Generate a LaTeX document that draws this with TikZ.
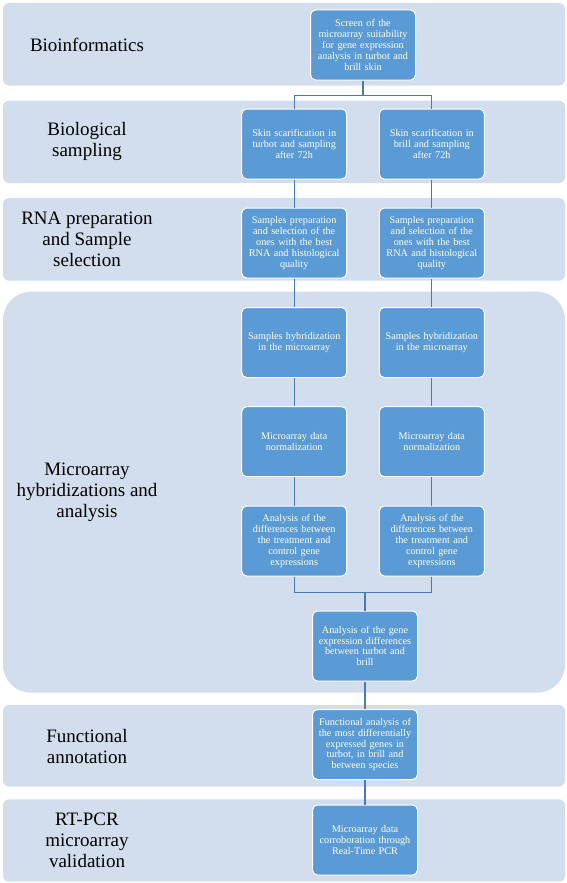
\documentclass[tikz,border=0pt]{standalone}
\usepackage{fontspec}
\setmainfont{Liberation Serif}
\usepackage{tikz}
\usetikzlibrary{positioning}
\definecolor{bandblue}{RGB}{210,222,237}
\definecolor{boxblue}{RGB}{91,155,213}
\definecolor{lineblue}{RGB}{72,122,182}

\begin{document}
\begin{tikzpicture}[x=1pt,y=-1pt]
\tikzstyle{band}=[fill=bandblue, rounded corners=6pt]
\tikzstyle{stage}=[align=center, text=black, font=\fontsize{19}{21}\selectfont]
\tikzstyle{box}=[rectangle, rounded corners=5pt, fill=boxblue, draw=white, line width=1pt, minimum width=105pt, minimum height=70pt, text width=97pt, inner sep=0pt, align=center, text=white, font=\fontsize{10.2}{10.8}\selectfont]
\tikzstyle{connect}=[draw=lineblue, line width=1.3pt]
\useasboundingbox (0,0) rectangle (567,883);
	% stage bands
	\fill[band] (3,3) rectangle (565,85.5);
	\fill[band] (3,100.7) rectangle (565,183);
	\fill[band] (3,198) rectangle (565,280.7);
	\fill[band, rounded corners=28pt] (3,291.7) rectangle (565,692.7);
	\fill[band] (3,705) rectangle (565,786.7);
	\fill[band] (3,799.3) rectangle (565,881.7);

	\node[stage] (s_1) at (87,44.5) {Bioinformatics};
	\node[stage] (s_2) at (87,141.8) {Biological\\sampling};
	\node[stage] (s_3) at (87,239.5) {RNA preparation\\and Sample\\selection};
	\node[stage] (s_4) at (87,492) {Microarray\\hybridizations and\\analysis};
	\node[stage] (s_5) at (87,746) {Functional\\annotation};
	\node[stage] (s_6) at (87,840.5) {RT-PCR\\microarray\\validation};

	\node[box] (screen) at (363,45) {Screen of the\\microarray suitability\\for gene expression\\analysis in turbot and\\brill skin};
	\node[box] (skin_t) at (294.2,144) {Skin scarification in\\turbot and sampling\\after 72h};
	\node[box] (skin_b) at (431.8,144) {Skin scarification in\\brill and sampling\\after 72h};
	\node[box] (rna_t) at (294.2,243) {Samples preparation\\and selection of the\\ones with the best\\RNA and histological\\quality};
	\node[box] (rna_b) at (431.8,243) {Samples preparation\\and selection of the\\ones with the best\\RNA and histological\\quality};
	\node[box] (hyb_t) at (294.2,342.5) {Samples hybridization\\in the microarray};
	\node[box] (hyb_b) at (431.8,342.5) {Samples hybridization\\in the microarray};
	\node[box] (norm_t) at (294.2,441.7) {Microarray data\\normalization};
	\node[box] (norm_b) at (431.8,441.7) {Microarray data\\normalization};
	\node[box] (diff_t) at (294.2,541) {Analysis of the\\differences between\\the treatment and\\control gene\\expressions};
	\node[box] (diff_b) at (431.8,541) {Analysis of the\\differences between\\the treatment and\\control gene\\expressions};
	\node[box] (gene) at (365,646) {Analysis of the gene\\expression differences\\between turbot and\\brill};
	\node[box] (func) at (365,744.5) {Functional analysis of\\the most differentially\\expressed genes in\\turbot, in brill and\\between species};
	\node[box] (rt) at (365,840) {Microarray data\\corroboration through\\Real-Time PCR};

	\coordinate (split) at (363,95.7);
	\coordinate (merge) at (365,592.7);
	\draw[connect] (screen.south) -- (split) -| (skin_t.north);
	\draw[connect] (split) -| (skin_b.north);
	\draw[connect] (diff_t.south) |- (merge) -- (gene.north);
	\draw[connect] (diff_b.south) |- (merge);

	\path
		(skin_t) edge [connect] (rna_t)
		(skin_b) edge [connect] (rna_b)
		(rna_t) edge [connect] (hyb_t)
		(rna_b) edge [connect] (hyb_b)
		(hyb_t) edge [connect] (norm_t)
		(hyb_b) edge [connect] (norm_b)
		(norm_t) edge [connect] (diff_t)
		(norm_b) edge [connect] (diff_b)
		(gene) edge [connect] (func)
		(func) edge [connect] (rt);

\end{tikzpicture}
\end{document}
